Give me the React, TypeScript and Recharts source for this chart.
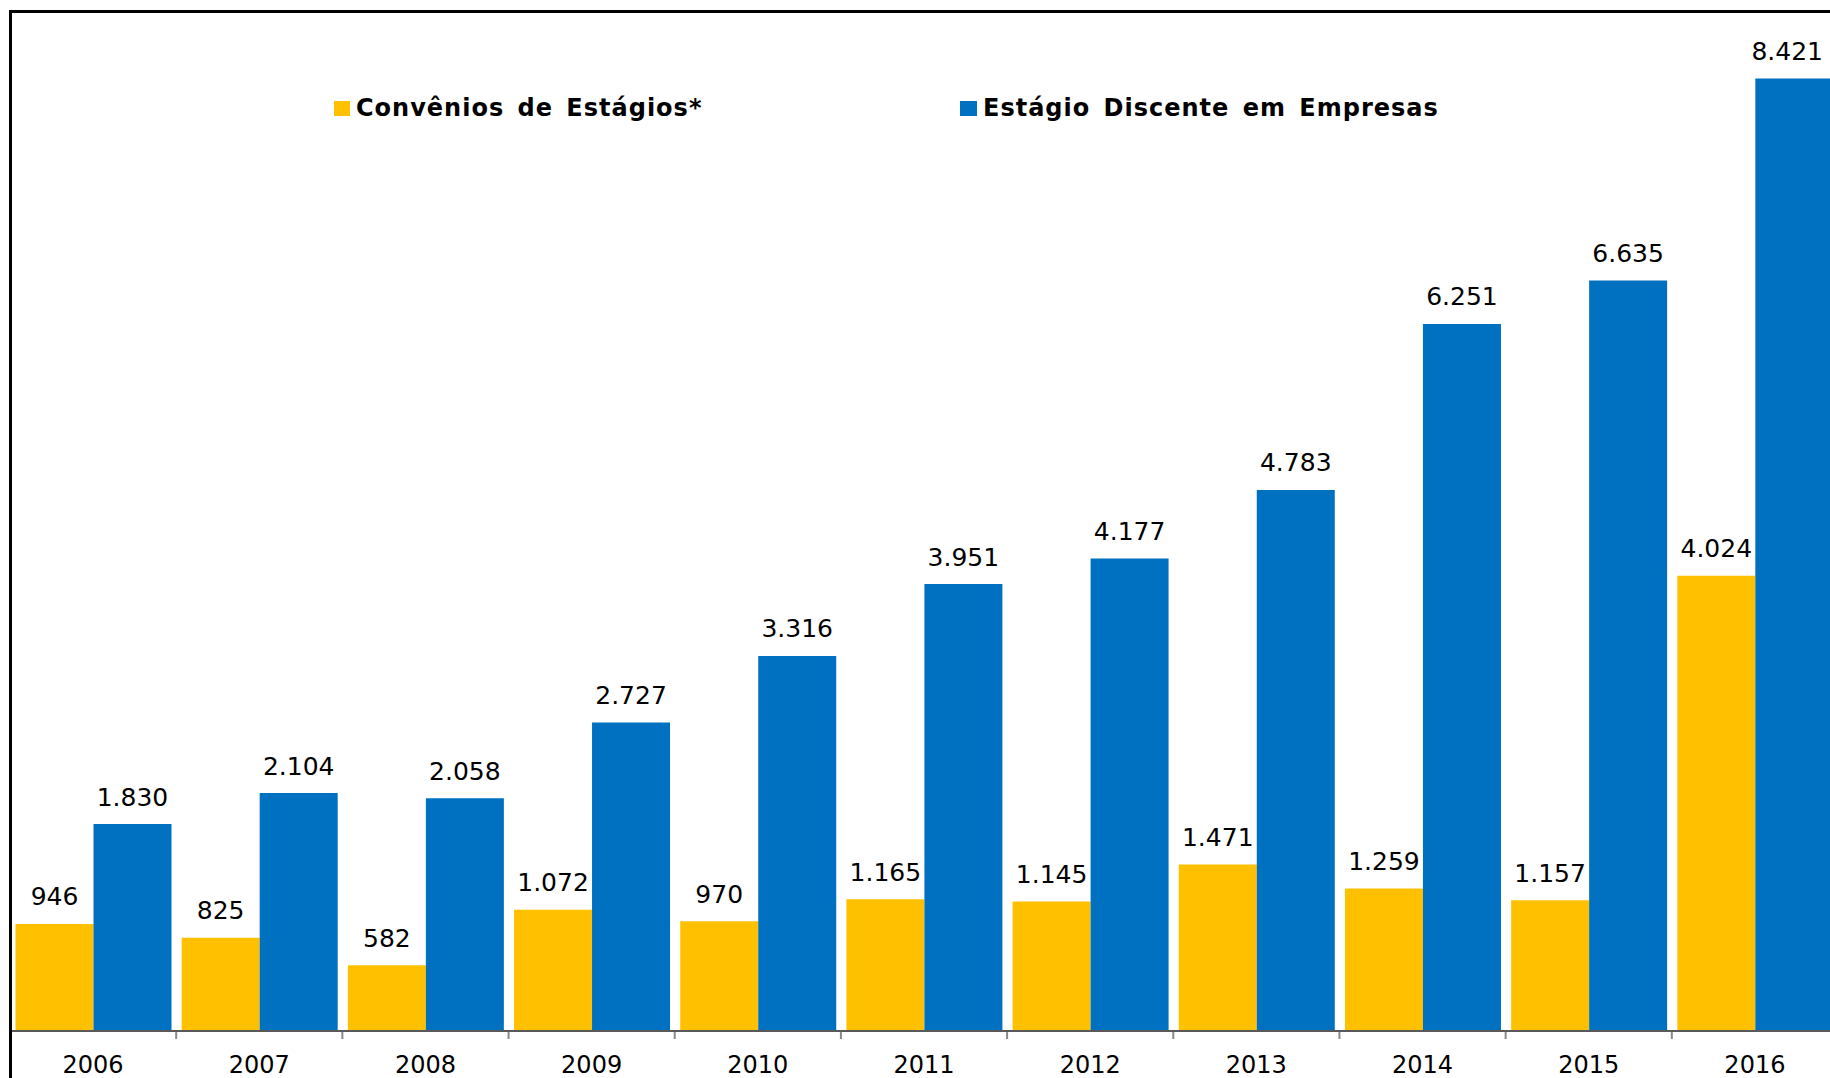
import React from 'react';
import { BarChart, Bar, XAxis, YAxis, LabelList, Legend } from 'recharts';

const years = ['2006', '2007', '2008', '2009', '2010', '2011', '2012', '2013', '2014', '2015', '2016'];
const convenios = [946, 825, 582, 1072, 970, 1165, 1145, 1471, 1259, 1157, 4024];
const estagios = [1830, 2104, 2058, 2727, 3316, 3951, 4177, 4783, 6251, 6635, 8421];
const seriesNames = ['Convênios de Estágios*', 'Estágio Discente em Empresas'];
const colors = ['#FFC000', '#0070C0'];

const data = years.map((y, i) => ({ year: y, convenios: convenios[i], estagios: estagios[i] }));

const fmt = (v: number) => String(v).replace(/\B(?=(\d{3})+(?!\d))/g, '.');

const FONT = '"DejaVu Sans", Verdana, sans-serif';

const YearTick = (props: any) => {
  const { x, y, payload } = props;
  const off = payload && payload.offset ? payload.offset : 0;
  return (
    <g>
      <line x1={x - off} x2={x - off} y1={y + 1} y2={y + 8} stroke="#8a8a8a" strokeWidth={2} />
      <text x={x} y={y + 41.5} textAnchor="middle" fontFamily={FONT} fontSize={24} fill="#000">
        {payload.value}
      </text>
    </g>
  );
};

const ValueLabel = (props: any) => {
  const { x, y, width, value } = props;
  const text = fmt(Number(value));
  let cx = x + width / 2;
  let anchor: 'middle' | 'end' = 'middle';
  const half = text.length * 7.5;
  if (cx + half > 1825) {
    cx = 1823;
    anchor = 'end';
  }
  return (
    <text x={cx} y={y - 18.5} textAnchor={anchor} fontFamily={FONT} fontSize={25} fill="#000">
      {text}
    </text>
  );
};

const LegendContent = () => (
  <div style={{ position: 'relative', width: 1830, height: 40, fontFamily: FONT, fontWeight: 'bold', fontSize: 24, color: '#000' }}>
    <div style={{ position: 'absolute', left: 334, top: 0, display: 'flex', alignItems: 'center', whiteSpace: 'nowrap' }}>
      <span style={{ display: 'inline-block', width: 16, height: 15, background: colors[0], marginRight: 6 }} />
      <span style={{ letterSpacing: 1, wordSpacing: 4 }}>{seriesNames[0]}</span>
    </div>
    <div style={{ position: 'absolute', left: 960, top: 0, display: 'flex', alignItems: 'center', whiteSpace: 'nowrap' }}>
      <span style={{ display: 'inline-block', width: 17, height: 15, background: colors[1], marginRight: 6 }} />
      <span style={{ letterSpacing: 1, wordSpacing: 4 }}>{seriesNames[1]}</span>
    </div>
  </div>
);

export default function App() {
  return (
    <div style={{ position: 'fixed', left: 0, top: 0, width: 1830, height: 1078, overflow: 'hidden', background: '#fff' }}>
      <BarChart
        width={1838}
        height={1091}
        data={data}
        margin={{ top: 13, right: 0, left: 10, bottom: 0 }}
        barCategoryGap={5.5}
        barGap={0}
      >
        <XAxis
          dataKey="year"
          height={60}
          tickSize={0}
          tickMargin={0}
          tickLine={false}
          axisLine={{ stroke: '#595959', strokeWidth: 2 }}
          tick={<YearTick />}
          interval={0}
        />
        <YAxis hide domain={[0, 9000]} />
        <Legend
          layout="horizontal"
          verticalAlign="middle"
          align="center"
          content={<LegendContent />}
          wrapperStyle={{ position: 'absolute', left: 0, top: 94, width: 1830, height: 40 }}
        />
        <Bar dataKey="convenios" name={seriesNames[0]} fill={colors[0]} isAnimationActive={false}>
          <LabelList dataKey="convenios" content={<ValueLabel />} />
        </Bar>
        <Bar dataKey="estagios" name={seriesNames[1]} fill={colors[1]} isAnimationActive={false}>
          <LabelList dataKey="estagios" content={<ValueLabel />} />
        </Bar>
      </BarChart>
      <div style={{ position: 'absolute', left: 9, top: 10, width: 2000, height: 2000, border: '3px solid #000', boxSizing: 'border-box', pointerEvents: 'none' }} />
    </div>
  );
}
